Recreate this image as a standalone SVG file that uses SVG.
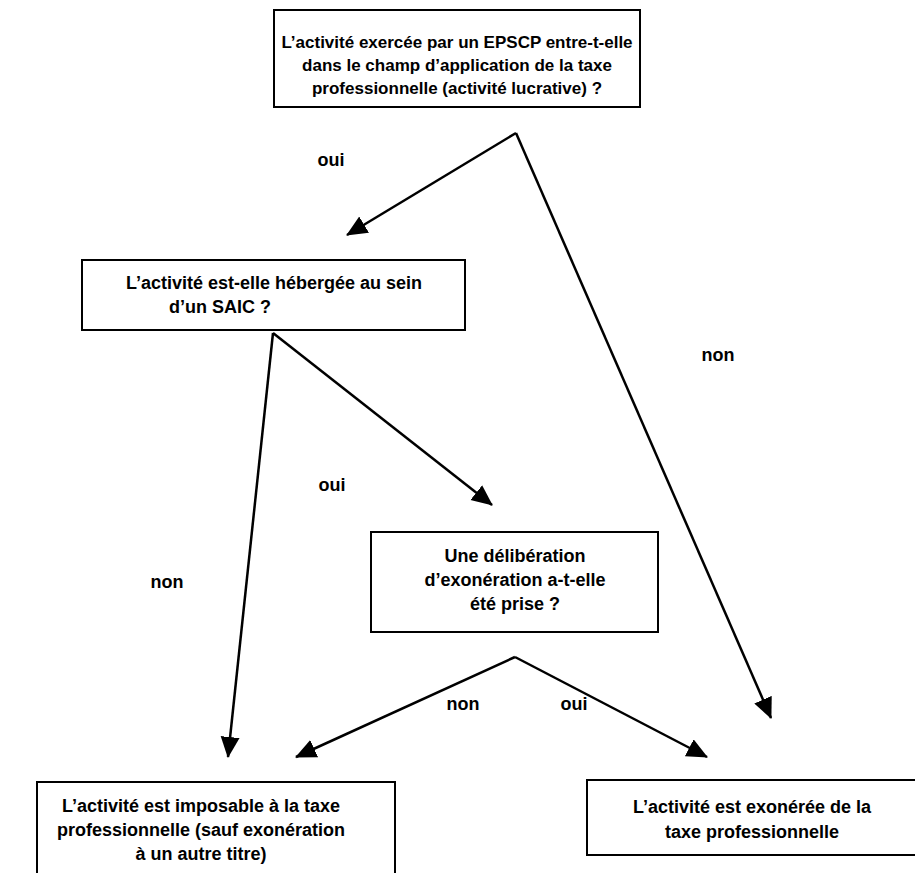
<svg xmlns="http://www.w3.org/2000/svg" width="915" height="873" viewBox="0 0 915 873">
<style>
  .box{fill:#fff;stroke:#000;stroke-width:2}
  .t{font-family:"Liberation Sans",Arial,sans-serif;font-weight:bold;font-size:18px;fill:#000;text-anchor:middle}
  .s{font-size:17px}
  .c{stroke:#000;stroke-width:2.5;fill:none;marker-end:url(#ah)}
</style>
<defs>
  <marker id="ah" markerUnits="userSpaceOnUse" markerWidth="22" markerHeight="20" refX="20" refY="9.5" orient="auto">
    <path d="M0,0 L21,9.5 L0,19 z" fill="#000"/>
  </marker>
</defs>
<rect width="915" height="873" fill="#fff"/>
<g id="q1">
  <rect class="box" x="274" y="10" width="366" height="97"/>
  <text class="t s" x="457" y="48">L’activité exercée par un EPSCP entre-t-elle</text>
  <text class="t s" x="457" y="71">dans le champ d’application de la taxe</text>
  <text class="t s" x="457" y="94">professionnelle (activité lucrative) ?</text>
</g>
<g id="q2">
  <rect class="box" x="82" y="260" width="383" height="70"/>
  <text class="t" x="274" y="289">L’activité est-elle hébergée au sein</text>
  <text class="t" x="220" y="313">d’un SAIC ?</text>
</g>
<g id="q3">
  <rect class="box" x="371" y="532" width="287" height="100"/>
  <text class="t" x="515" y="562">Une délibération</text>
  <text class="t" x="515" y="586">d’exonération a-t-elle</text>
  <text class="t" x="515" y="610">été prise ?</text>
</g>
<g id="r1">
  <rect class="box" x="37" y="782" width="358" height="100"/>
  <text class="t" x="201" y="812">L’activité est imposable à la taxe</text>
  <text class="t" x="201" y="836">professionnelle (sauf exonération</text>
  <text class="t" x="201" y="860">à un autre titre)</text>
</g>
<g id="r2">
  <rect class="box" x="587" y="780" width="330" height="75"/>
  <text class="t" x="752" y="813">L’activité est exonérée de la</text>
  <text class="t" x="752" y="838">taxe professionnelle</text>
</g>
<g id="connectors">
  <line class="c" x1="516" y1="133" x2="347" y2="235"/>
  <line class="c" x1="516" y1="133" x2="771" y2="718"/>
  <line class="c" x1="273" y1="333" x2="228" y2="757"/>
  <line class="c" x1="273" y1="333" x2="492" y2="505"/>
  <line class="c" x1="515" y1="657" x2="296" y2="757"/>
  <line class="c" x1="515" y1="657" x2="707" y2="757"/>
  <text class="t" x="331" y="166">oui</text>
  <text class="t" x="718" y="361">non</text>
  <text class="t" x="332" y="491">oui</text>
  <text class="t" x="167" y="588">non</text>
  <text class="t" x="463" y="710">non</text>
  <text class="t" x="574" y="710">oui</text>
</g>
</svg>
